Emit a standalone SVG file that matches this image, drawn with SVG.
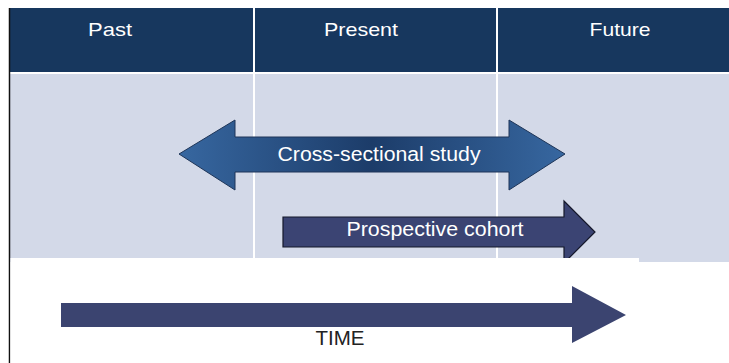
<svg xmlns="http://www.w3.org/2000/svg" width="729" height="363" viewBox="0 0 729 363">
  <defs>
    <style>
      .hdr { fill: #17375e; }
      .body { fill: #d3d9e8; }
      .div { stroke: #ffffff; stroke-width: 2; }
      .hdrtxt { font-family: "Liberation Sans", Arial, sans-serif; font-size: 19px; fill: #ffffff; }
      .arrtxt { font-family: "Liberation Sans", Arial, sans-serif; font-size: 19.5px; fill: #ffffff; }
      .timetxt { font-family: "Liberation Sans", Arial, sans-serif; font-size: 20px; fill: #222222; }
    </style>
    <linearGradient id="xsGrad" x1="179" y1="0" x2="565" y2="0" gradientUnits="userSpaceOnUse">
      <stop offset="0" stop-color="#3767a0"/>
      <stop offset="0.5" stop-color="#1c3c69"/>
      <stop offset="1" stop-color="#3767a0"/>
    </linearGradient>
  </defs>

  <rect x="0" y="0" width="729" height="363" fill="#ffffff"/>

  <g id="background">
    <rect class="hdr" x="10" y="8" width="719" height="64"/>
    <rect class="body" x="10" y="74" width="719" height="188"/>
    <line class="div" x1="254" y1="8" x2="254" y2="258" stroke-width="2"/>
    <line class="div" x1="497" y1="8" x2="497" y2="258" stroke-width="1.5"/>
    <line x1="9.5" y1="8" x2="9.5" y2="363" stroke="#111111" stroke-width="1.5"/>
  </g>

  <g id="header-past"><text class="hdrtxt" x="110" y="36" text-anchor="middle" textLength="44" lengthAdjust="spacingAndGlyphs">Past</text></g>
  <g id="header-present"><text class="hdrtxt" x="361" y="36" text-anchor="middle" textLength="74" lengthAdjust="spacingAndGlyphs">Present</text></g>
  <g id="header-future"><text class="hdrtxt" x="620" y="36" text-anchor="middle" textLength="61" lengthAdjust="spacingAndGlyphs">Future</text></g>

  <g id="connectors">
    <g id="cross-sectional">
      <path d="M179,154 L235,120 L235,137 L509,137 L509,120 L565,154 L509,190 L509,172 L235,172 L235,190 Z" fill="url(#xsGrad)" stroke="#1e3558" stroke-width="1"/>
      <text class="arrtxt" x="379" y="161" text-anchor="middle" textLength="203" lengthAdjust="spacingAndGlyphs">Cross-sectional study</text>
    </g>
    <g id="prospective-cohort">
      <path d="M283,217 L564,217 L564,201 L595,232 L564,263 L564,247 L283,247 Z" fill="#3b4473" stroke="#15182a" stroke-width="1.2"/>
      <text class="arrtxt" x="435" y="236" text-anchor="middle" textLength="177" lengthAdjust="spacingAndGlyphs">Prospective cohort</text>
    </g>
  </g>

  <rect x="10.5" y="258" width="628.5" height="105" fill="#ffffff"/>

  <g id="time">
    <path d="M61,303 L572,303 L572,286 L626,315 L572,343 L572,327 L61,327 Z" fill="#3b4470"/>
    <text class="timetxt" x="340" y="345" text-anchor="middle" textLength="49" lengthAdjust="spacingAndGlyphs">TIME</text>
  </g>
</svg>
